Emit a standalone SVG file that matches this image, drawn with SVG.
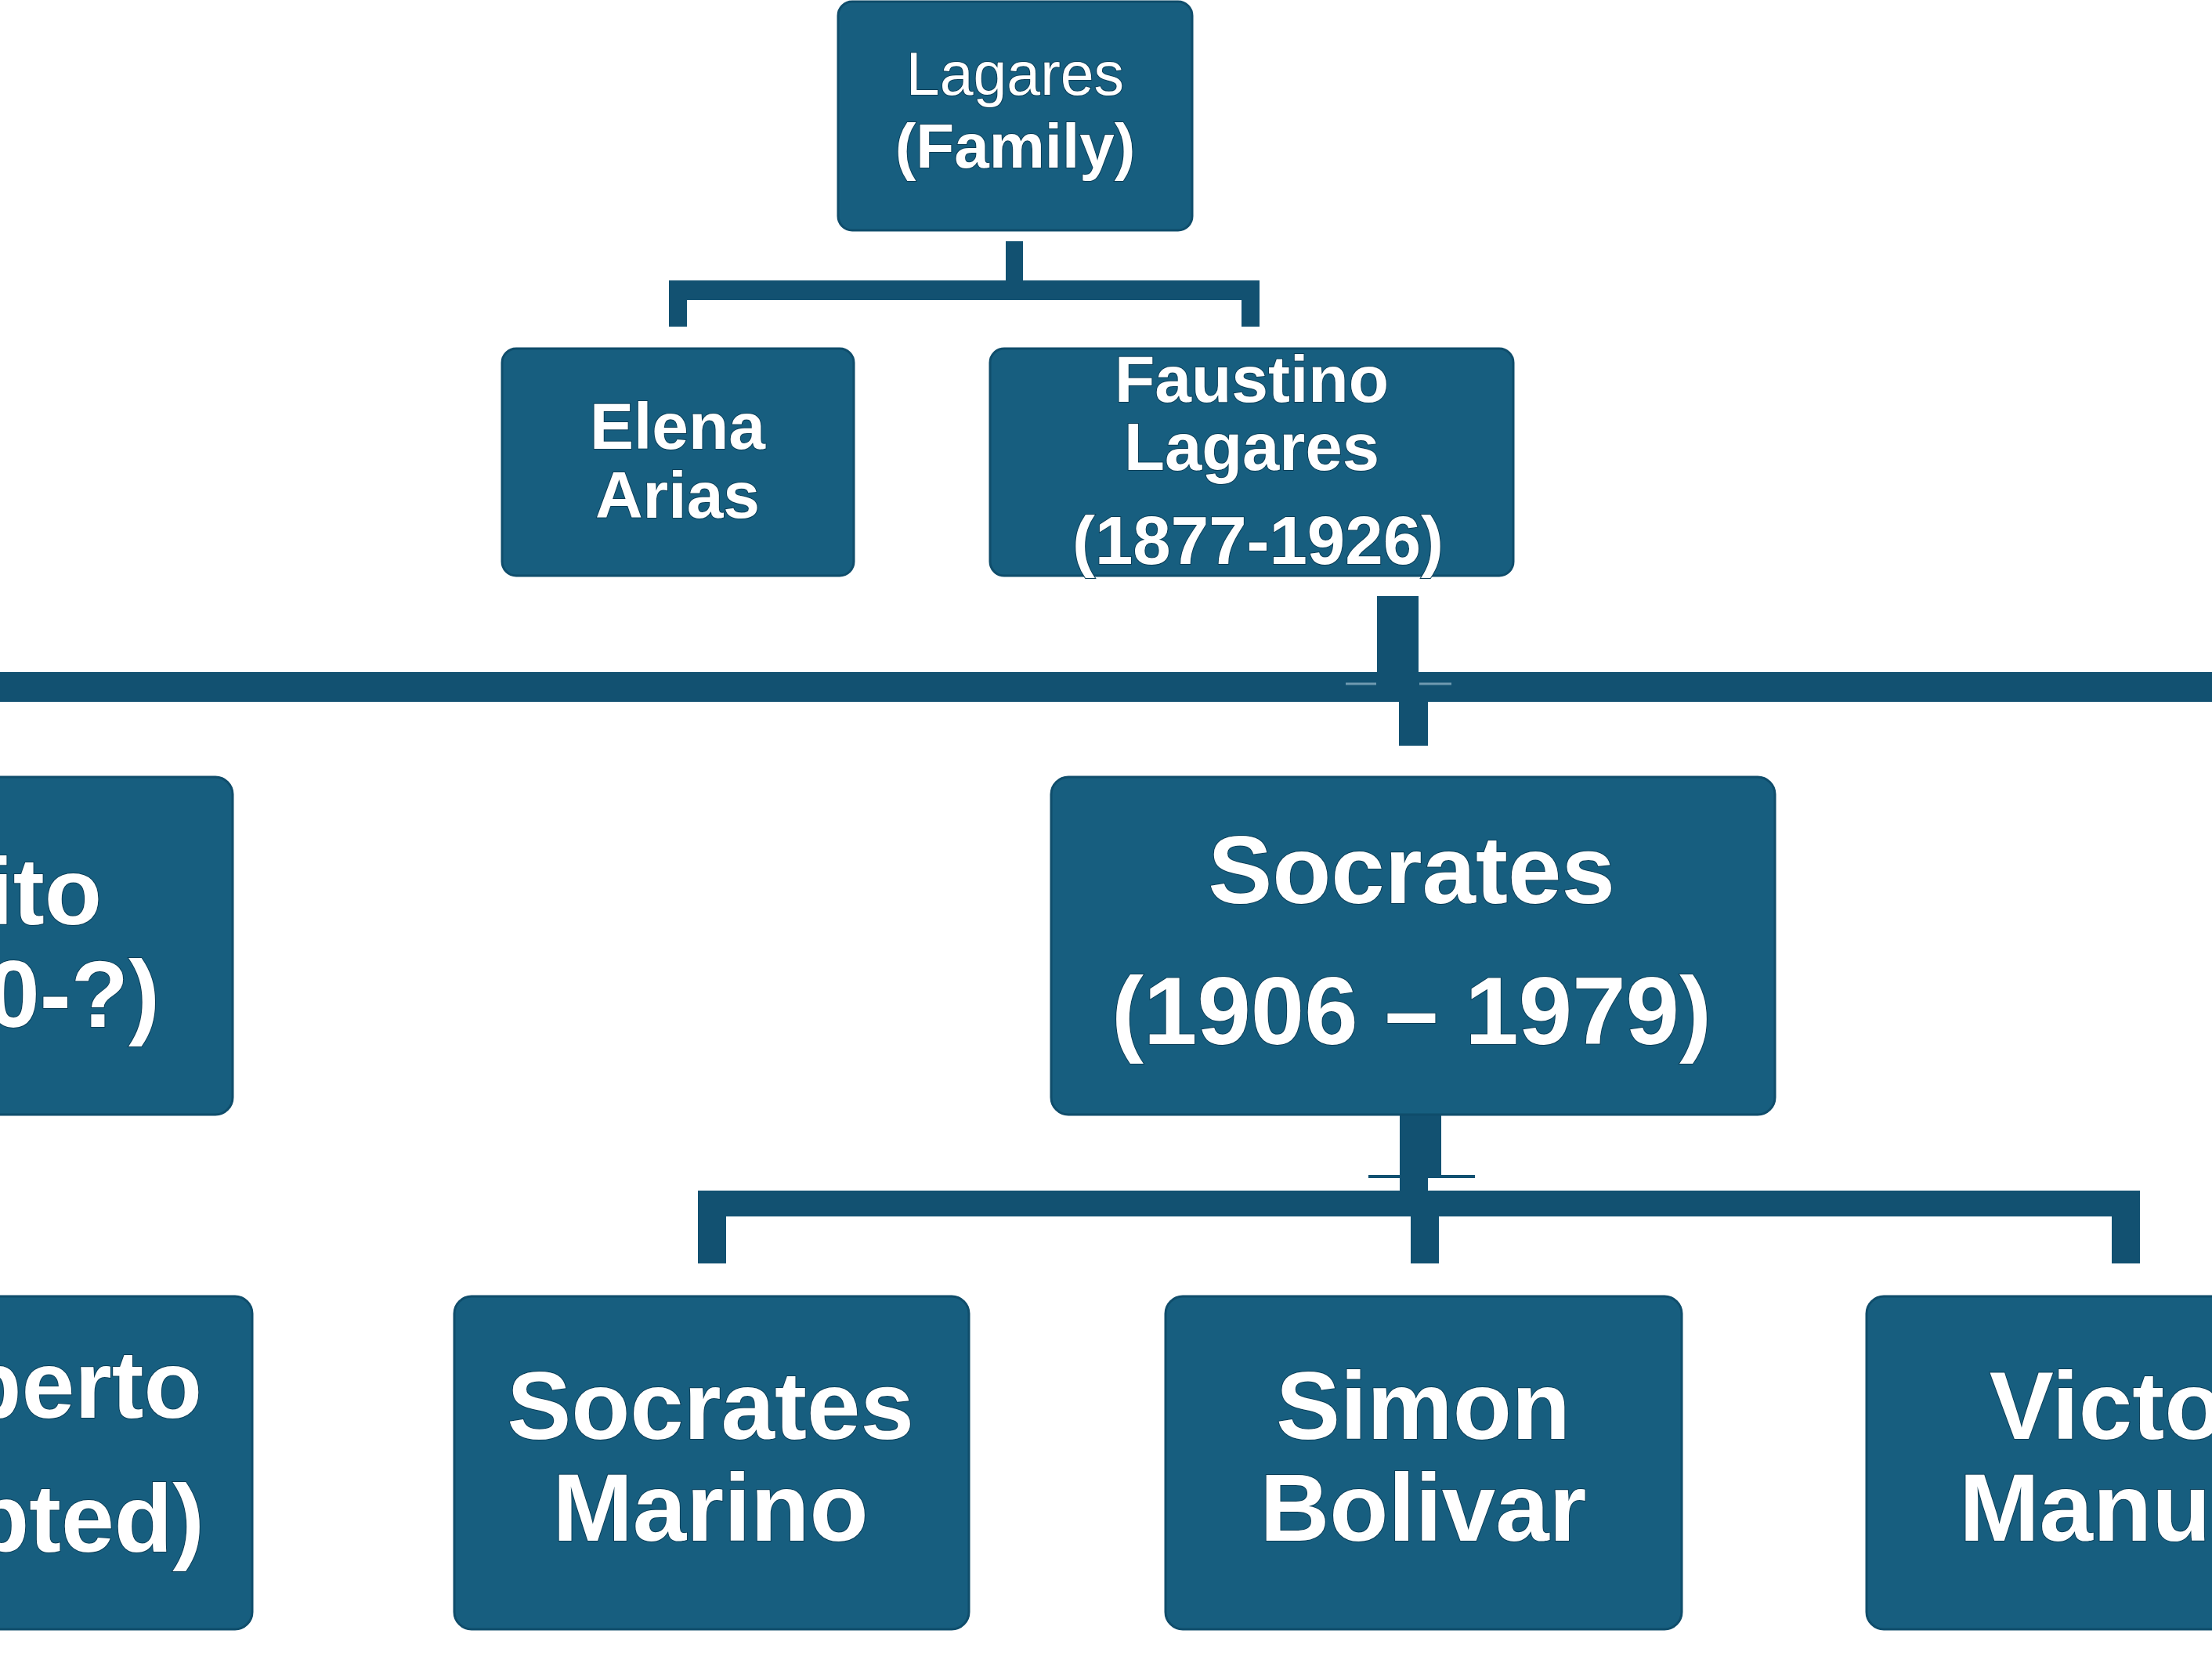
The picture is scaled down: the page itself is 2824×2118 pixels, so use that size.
<svg xmlns="http://www.w3.org/2000/svg" width="2824" height="2118" viewBox="0 0 2824 2118">
<style>
.box{fill:#175e7f;stroke:#0f4d6b;stroke-width:3}
.c{fill:#125171}
.seam{stroke:#6f9ab0;stroke-width:3;fill:none}
.t{fill:#ffffff;font-family:"Liberation Sans",Arial,sans-serif;font-weight:bold;text-anchor:middle;stroke:#0c3e57;stroke-width:2;paint-order:stroke}
.r{font-weight:normal}
.e{text-anchor:end}
</style>
<rect width="2824" height="2118" fill="#ffffff"/>
<g id="connectors">
<rect class="c" x="1284" y="308" width="22" height="52"/>
<rect class="c" x="854" y="358" width="754" height="25"/>
<rect class="c" x="854" y="380" width="23" height="37"/>
<rect class="c" x="1585" y="380" width="23" height="37"/>
<rect class="c" x="1758" y="761" width="53" height="112"/>
<rect class="c" x="0" y="858" width="2824" height="38"/>
<line class="seam" x1="1718" y1="873" x2="1757" y2="873"/>
<line class="seam" x1="1812" y1="873" x2="1853" y2="873"/>
<rect class="c" x="1786" y="894" width="37" height="58"/>
<rect class="c" x="1787" y="1387" width="53" height="114"/>
<line x1="1747" y1="1502" x2="1883" y2="1502" stroke="#125171" stroke-width="4"/>
<rect class="c" x="1787" y="1500" width="36" height="22"/>
<rect class="c" x="891" y="1520" width="1841" height="33"/>
<rect class="c" x="891" y="1550" width="36" height="63"/>
<rect class="c" x="1801" y="1550" width="36" height="63"/>
<rect class="c" x="2696" y="1550" width="36" height="63"/>
</g>
<g id="lagares-family">
<rect class="box" x="1070" y="2" width="452" height="292" rx="18"/>
<text class="t r" x="1296" y="121" font-size="77">Lagares</text>
<text class="t" x="1296" y="214" font-size="80">(Family)</text>
</g>
<g id="elena-arias">
<rect class="box" x="641" y="445" width="449" height="290" rx="18"/>
<text class="t" x="865" y="573" font-size="84">Elena</text>
<text class="t" x="865" y="661" font-size="84">Arias</text>
</g>
<g id="faustino-lagares">
<rect class="box" x="1264" y="445" width="668" height="290" rx="18"/>
<text class="t" x="1598" y="513" font-size="84">Faustino</text>
<text class="t" x="1598" y="600" font-size="85">Lagares</text>
<text class="t" x="1606" y="720" font-size="87">(1877-1926)</text>
</g>
<g id="node-left-2">
<rect class="box" x="-100" y="992" width="397" height="431" rx="22"/>
<text class="t e" x="130" y="1180" font-size="120">ito</text>
<text class="t e" x="204" y="1311" font-size="120">0-?)</text>
</g>
<g id="socrates">
<rect class="box" x="1342" y="992" width="924" height="431" rx="22"/>
<text class="t" x="1802" y="1153" font-size="123">Socrates</text>
<text class="t" x="1802" y="1333" font-size="123">(1906 – 1979)</text>
</g>
<g id="node-left-3">
<rect class="box" x="-100" y="1655" width="422" height="425" rx="22"/>
<text class="t e" x="258" y="1810" font-size="122">berto</text>
<text class="t e" x="261" y="1981" font-size="122">pted)</text>
</g>
<g id="socrates-marino">
<rect class="box" x="580" y="1655" width="657" height="425" rx="22"/>
<text class="t" x="907" y="1837" font-size="123">Socrates</text>
<text class="t" x="907" y="1967" font-size="123">Marino</text>
</g>
<g id="simon-bolivar">
<rect class="box" x="1488" y="1655" width="659" height="425" rx="22"/>
<text class="t" x="1817" y="1837" font-size="123">Simon</text>
<text class="t" x="1817" y="1967" font-size="123">Bolivar</text>
</g>
<g id="victor-manuel">
<rect class="box" x="2383" y="1655" width="660" height="425" rx="22"/>
<text class="t" x="2713" y="1837" font-size="123">Victor</text>
<text class="t" x="2713" y="1967" font-size="123">Manuel</text>
</g>
</svg>
